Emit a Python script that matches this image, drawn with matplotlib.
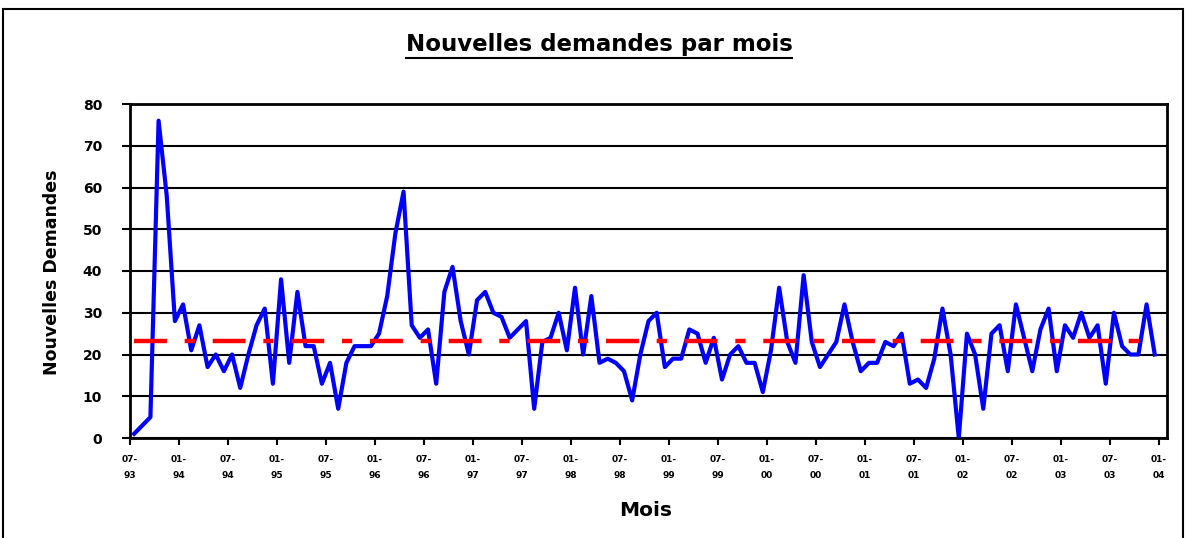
import matplotlib
matplotlib.use('Agg')
import matplotlib.pyplot as plt
import numpy as np
from matplotlib.lines import Line2D
from matplotlib.patches import Rectangle

plt.rcParams['font.family'] = ['DejaVu Sans']
plt.rcParams['font.weight'] = 'bold'

# nouvelles demandes par mois, de 07-93 a 12-03
demandes = [1, 3, 5, 76, 58, 28, 32, 21, 27, 17,
            20, 16, 20, 12, 20, 27, 31, 13, 38, 18,
            35, 22, 22, 13, 18, 7, 18, 22, 22, 22,
            25, 34, 49, 59, 27, 24, 26, 13, 35, 41,
            28, 20, 33, 35, 30, 29, 24, 26, 28, 7,
            23, 24, 30, 21, 36, 20, 34, 18, 19, 18,
            16, 9, 20, 28, 30, 17, 19, 19, 26, 25,
            18, 24, 14, 20, 22, 18, 18, 11, 21, 36,
            23, 18, 39, 23, 17, 20, 23, 32, 23, 16,
            18, 18, 23, 22, 25, 13, 14, 12, 19, 31,
            20, 0, 25, 20, 7, 25, 27, 16, 32, 24,
            16, 26, 31, 16, 27, 24, 30, 24, 27, 13,
            30, 22, 20, 20, 32, 20]
nb_mois = 127  # 07-93 .. 01-04
mois_labels = ['07-\n93', '01-\n94', '07-\n94', '01-\n95', '07-\n95', '01-\n96',
               '07-\n96', '01-\n97', '07-\n97', '01-\n98', '07-\n98', '01-\n99',
               '07-\n99', '01-\n00', '07-\n00', '01-\n01', '07-\n01', '01-\n02',
               '07-\n02', '01-\n03', '07-\n03', '01-\n04']
y_ticks = [0, 10, 20, 30, 40, 50, 60, 70, 80]

W, H = 1187, 538
fig = plt.figure(figsize=(W / 100, H / 100), dpi=100)
fig.patch.set_facecolor('white')

# cadre autour du graphique
fig.add_artist(Rectangle((3 / W, -0.02), (W - 7) / W, 1 - 9 / H + 0.02,
                         transform=fig.transFigure, fill=False,
                         edgecolor='black', lw=1.5))

ax = fig.add_axes([130 / W, 1 - 438 / H, 1037 / W, 334 / H])

x = np.arange(len(demandes)) + 0.5
moyenne = np.mean(demandes)

ax.plot(x, demandes, color='#0000ff', lw=3, zorder=3)
ax.plot(x, [moyenne] * len(x), color='#ff0000', lw=3.2,
        linestyle=(0, (7.4, 4.0, 2.3, 4.0)), zorder=4)

ax.set_xlim(0, nb_mois)
ax.set_ylim(0, 80)
ax.set_xticks(np.arange(0, nb_mois, 6))
ax.set_xticklabels(mois_labels)
ax.set_yticks(y_ticks)
ax.set_yticklabels([str(v) for v in y_ticks])

ax.yaxis.grid(True, color='black', lw=1.5)
ax.set_axisbelow(True)
for s in ax.spines.values():
    s.set_linewidth(2)
    s.set_color('black')

ax.tick_params(axis='x', direction='out', length=5, width=1.5, pad=7,
               labelsize=6.5)
ax.tick_params(axis='y', direction='out', length=6, width=1.5, pad=14,
               labelsize=10)
for lab in ax.get_xticklabels():
    lab.set_linespacing(2.0)
    lab.set_fontweight('bold')
for lab in ax.get_yticklabels():
    lab.set_fontweight('bold')

fig.text(52 / W, 1 - 272 / H, 'Nouvelles Demandes', rotation=90,
         ha='center', va='center', fontsize=12.5, fontweight='bold')
fig.text(646 / W, 1 - 511 / H, 'Mois', ha='center', va='center',
         fontsize=14.5, fontweight='bold')
titre = fig.text(599 / W, 1 - 45 / H, 'Nouvelles demandes par mois',
                 ha='center', va='center', fontsize=16.5, fontweight='bold')

# soulignement du titre
fig.canvas.draw()
bb = titre.get_window_extent(renderer=fig.canvas.get_renderer())
y_line = (bb.y0 - 1) / H
fig.add_artist(Line2D([bb.x0 / W, bb.x1 / W], [y_line, y_line],
                      transform=fig.transFigure, color='black', lw=1.5))

fig.savefig('out.png', dpi=100)
